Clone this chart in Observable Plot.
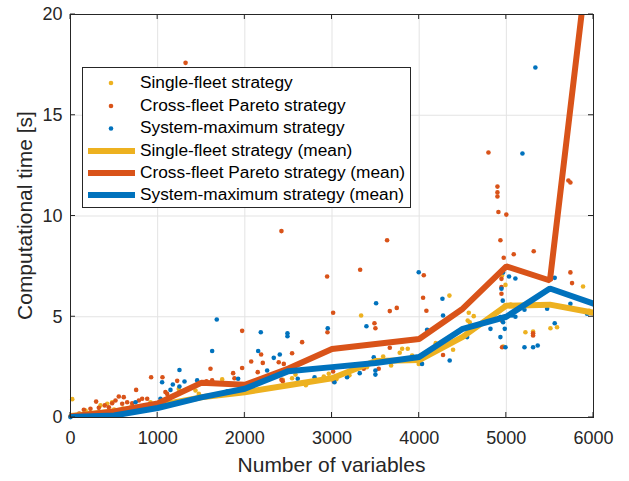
<!DOCTYPE html>
<html><head><meta charset="utf-8">
<script src="https://cdn.jsdelivr.net/npm/d3@7"></script>
<script src="https://cdn.jsdelivr.net/npm/@observablehq/plot@0.6"></script>
<style>
body{margin:0;background:#fff;}
#chart svg{font-family:"Liberation Sans",Arial,Helvetica,sans-serif;}
</style>
</head><body><div id="chart"></div>
<script>
// ---------- data ----------
const seriesNames = ["Single-fleet strategy","Cross-fleet Pareto strategy","System-maximum strategy"];
const meanNames = ["Single-fleet strategy (mean)","Cross-fleet Pareto strategy (mean)","System-maximum strategy (mean)"];
const colors = ["#EDB120","#D95319","#0072BD"];
const xTicks = [0,1000,2000,3000,4000,5000,6000];
const yTicks = [0,5,10,15,20];

const singleX = [0,20,100,172,250,344,421,478,500,600,700,918,1000,1100,1242,1434,1472,1600,1740,1900,2000,2200,2435,2542,2581,2700,2906,2963,3050,3200,3334,3400,3587,3678,3777,3805,3869,3919,3995,4015,4190,4347,4389,4557,4569,4580,4626,4951,4963,4982,4990,5050,5219,5307,5506,5582,5600,5880,5950];
const singleY = [0.05,0.91,0.1,0.35,0.2,0.6,0.68,0.76,0.4,0.45,0.55,0.76,0.65,0.8,1.42,1.34,1.17,1.05,1.89,1.2,1.3,1.4,1.87,1.95,2.13,1.6,2.03,2.17,1.9,2.1,5.06,2.5,3.03,2.58,3.21,3.41,3.41,3.08,2.66,2.7,3.69,6.05,3.36,4.81,5.2,4.73,5.03,7.05,3.52,5.55,6.58,5.6,4.23,4.27,4.43,4.48,5.5,6.5,5.3];

const paretoX = [0,100,153,229,294,325,393,440,478,516,554,593,611,650,708,753,784,822,880,925,1055,1089,1109,1224,1320,1560,1606,1625,1866,1881,1969,1969,2073,2148,2187,2206,2389,2420,2420,2435,2447,2542,2657,2944,2948,3013,3013,3020,3323,3364,3487,3498,3536,3632,3663,3663,3743,4053,4045,4083,4274,4795,4898,4898,4898,4909,4932,4944,4944,4944,4951,4951,4970,5000,5085,5307,5307,5314,5712,5735,5735,5754];
const paretoY = [0.05,0.2,0.38,0.43,0.79,0.48,0.6,0.51,0.71,0.84,1.04,0.68,1.01,0.76,0.71,1.37,0.84,0.93,0.93,2.0,2.0,1.26,1.17,1.82,17.6,1.8,2.42,1.84,2.2,1.95,4.3,2.46,2.78,2.25,3.13,2.71,2.74,9.25,1.87,1.8,2.66,3.19,3.74,7.0,4.23,5.2,2.28,1.79,7.33,2.42,4.68,4.43,2.42,8.8,5.28,3.46,5.44,7.06,5.94,5.3,3.1,13.15,11.46,11.17,10.97,10.2,8.8,6.88,6.47,6.14,3.49,4.8,7.93,10.07,8.1,4.18,4.07,8.25,11.76,11.66,7.2,6.67];

const systemX = [0,100,200,300,440,516,600,746,850,1032,1051,1147,1174,1250,1250,1308,1453,1625,1678,1800,1923,2141,2153,2183,2256,2332,2401,2489,2489,2607,2800,2951,3028,3173,3318,3395,3479,3498,3498,3506,3995,4033,4091,4267,4274,4350,4550,4818,4932,4932,4944,4959,4963,4963,4982,4990,5031,5066,5104,5104,5185,5208,5208,5307,5333,5360,5468,5555,5555,5735,5926];
const systemY = [0.02,0.1,0.15,0.2,0.3,0.3,0.35,0.76,0.5,0.93,1.75,1.37,1.64,2.36,1.54,1.79,1.84,3.3,4.86,1.3,1.92,1.75,3.3,4.23,2.33,2.96,3.13,4.18,4.03,1.92,2.0,4.43,1.75,2.0,2.2,4.53,2.99,2.33,2.13,5.67,7.21,2.66,4.35,5.89,5.06,2.83,3.99,4.4,4.98,3.99,6.39,5.8,7.2,4.73,4.4,3.49,7.0,5.06,5.0,6.9,13.1,3.49,5.35,3.49,17.37,3.57,5.4,6.93,4.68,5.64,5.15];

const meanX = [0,500,1000,1500,2000,2500,3000,3500,4000,4500,5000,5500,6000];
const singleMean = [0.08,0.3,0.6,1.0,1.25,1.6,1.95,2.8,2.85,4.0,5.55,5.6,5.2];
const paretoMean = [0.05,0.3,0.7,1.72,1.62,2.43,3.4,3.65,3.9,5.4,7.5,6.8,25];
const systemMean = [0.03,0.1,0.47,1.0,1.43,2.3,2.5,2.7,3.0,4.4,5.0,6.4,5.65];

// ---------- build ----------
const pts = (xs, ys) => xs.map((x, i) => ({x, y: ys[i]}));
const scatter = [pts(singleX, singleY), pts(paretoX, paretoY), pts(systemX, systemY)];
const means = [pts(meanX, singleMean), pts(meanX, paretoMean), pts(meanX, systemMean)];

const W = 629, H = 481;
const plot = Plot.plot({
  width: W, height: H,
  marginLeft: 70, marginRight: 36, marginTop: 14, marginBottom: 64,
  style: {background: "white", fontFamily: '"Liberation Sans",Arial,sans-serif', overflow: "visible"},
  x: {domain: [0, 6000]},
  y: {domain: [0, 20]},
  marks: [
    Plot.gridX(xTicks, {stroke: "#e3e3e3", strokeOpacity: 1, strokeWidth: 1}),
    Plot.gridY(yTicks, {stroke: "#e3e3e3", strokeOpacity: 1, strokeWidth: 1}),
    ...scatter.map((d, i) => Plot.dot(d, {x: "x", y: "y", r: 2.3, fill: colors[i], stroke: null})),
    ...means.map((d, i) => Plot.line(d, {x: "x", y: "y", stroke: colors[i], strokeWidth: 6, strokeLinejoin: "miter", clip: true})),
    Plot.frame({stroke: "#262626", strokeWidth: 1}),
    Plot.axisX(xTicks, {tickSize: 0, tickPadding: 14, fontSize: 18, fill: "#262626", label: null, tickFormat: d => String(d)}),
    Plot.axisY(yTicks, {tickSize: 0, tickPadding: 8, fontSize: 18, fill: "#262626", label: null, tickFormat: d => String(d)})
  ]
});
document.getElementById("chart").appendChild(plot);

const sx = plot.scale("x"), sy = plot.scale("y");
const svg = d3.select(plot);
const x0 = sx.apply(0), x1 = sx.apply(6000), y0 = sy.apply(0), y1 = sy.apply(20);
const tk = svg.append("g").attr("stroke", "#262626").attr("stroke-width", 1);
xTicks.forEach(v => {
  const px = sx.apply(v);
  tk.append("line").attr("x1", px).attr("x2", px).attr("y1", y0).attr("y2", y0 - 5);
  tk.append("line").attr("x1", px).attr("x2", px).attr("y1", y1).attr("y2", y1 + 5);
});
yTicks.forEach(v => {
  const py = sy.apply(v);
  tk.append("line").attr("x1", x0).attr("x2", x0 + 5).attr("y1", py).attr("y2", py);
  tk.append("line").attr("x1", x1).attr("x2", x1 - 5).attr("y1", py).attr("y2", py);
});

// axis titles
svg.append("text").attr("x", (x0 + x1) / 2).attr("y", 472).attr("text-anchor", "middle")
  .attr("font-size", 21).attr("fill", "#262626").text("Number of variables");
svg.append("text").attr("transform", `translate(26,${(y0 + y1) / 2}) rotate(-90)`)
  .attr("text-anchor", "middle").attr("dominant-baseline", "middle")
  .attr("font-size", 21).attr("fill", "#262626").text("Computational time [s]");

// legend
const lg = svg.append("g");
lg.append("rect").attr("x", 82.5).attr("y", 67.5).attr("width", 328).attr("height", 140)
  .attr("fill", "white").attr("stroke", "#262626").attr("stroke-width", 1);
const rowY = [83, 106, 128.5, 151, 173, 195];
const labels = [...seriesNames, ...meanNames];
labels.forEach((t, i) => {
  const c = colors[i % 3];
  if (i < 3) {
    lg.append("circle").attr("cx", 111).attr("cy", rowY[i]).attr("r", 2.3).attr("fill", c);
  } else {
    lg.append("line").attr("x1", 88).attr("x2", 135).attr("y1", rowY[i]).attr("y2", rowY[i])
      .attr("stroke", c).attr("stroke-width", 6);
  }
  lg.append("text").attr("x", 140).attr("y", rowY[i]).attr("text-anchor", "start")
    .attr("dominant-baseline", "middle")
    .attr("font-size", 17.3).attr("fill", "#000").text(t);
});
</script>
</body></html>
